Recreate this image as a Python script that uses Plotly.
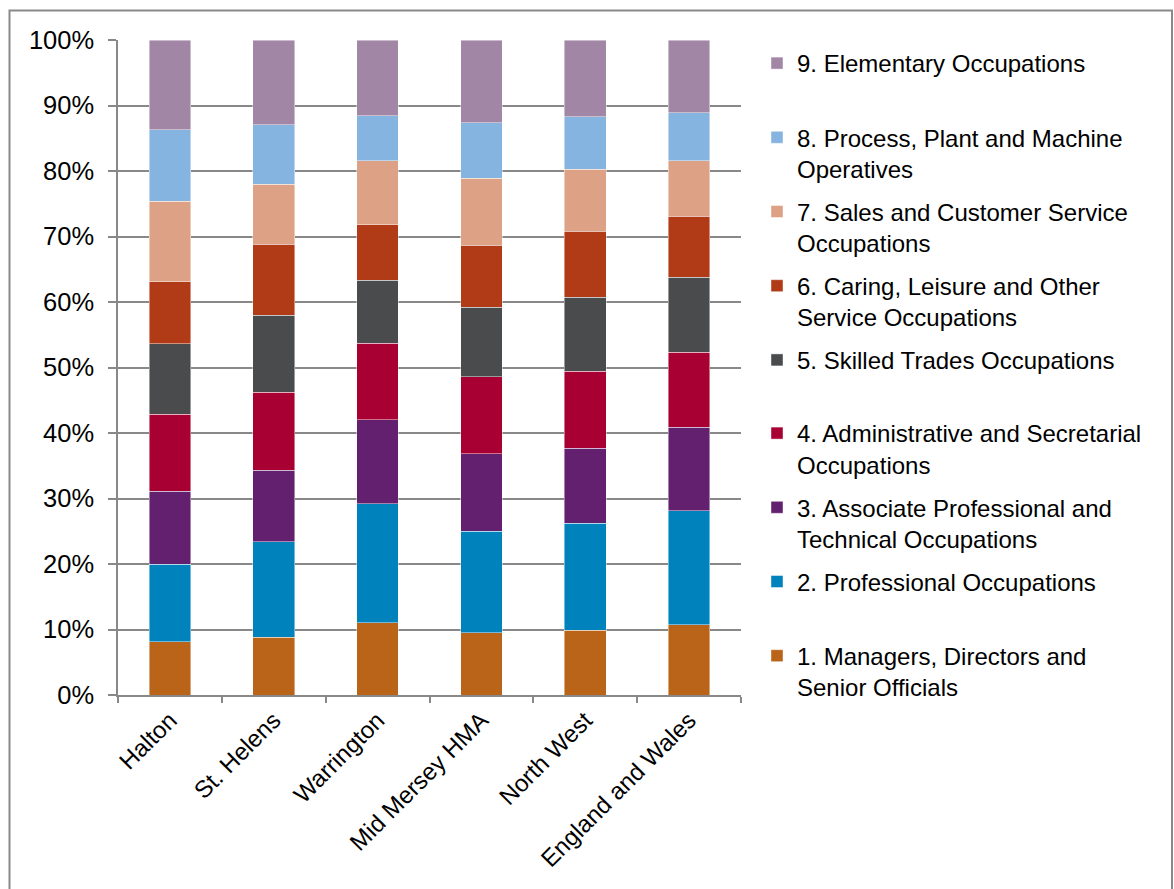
import plotly.graph_objects as go

# Areas compared
areas = ["Halton", "St. Helens", "Warrington", "Mid Mersey HMA", "North West", "England and Wales"]

# Occupation group labels (SOC major groups)
groups = [
    "1. Managers, Directors and<br>Senior Officials",
    "2. Professional Occupations",
    "3. Associate Professional and<br>Technical Occupations",
    "4. Administrative and Secretarial<br>Occupations",
    "5. Skilled Trades Occupations",
    "6. Caring, Leisure and Other<br>Service Occupations",
    "7. Sales and Customer Service<br>Occupations",
    "8. Process, Plant and Machine<br>Operatives",
    "9. Elementary Occupations",
]

# Share of employed residents by occupation group (%), per area
managers = [8.1, 8.8, 11.0, 9.5, 9.9, 10.7]
professional = [11.9, 14.6, 18.2, 15.5, 16.3, 17.4]
associate = [11.1, 10.9, 12.8, 11.8, 11.5, 12.8]
administrative = [11.8, 11.9, 11.7, 11.8, 11.7, 11.4]
skilled_trades = [10.7, 11.8, 9.6, 10.6, 11.3, 11.5]
caring_leisure = [9.5, 10.8, 8.5, 9.5, 10.1, 9.3]
sales_customer = [12.3, 9.2, 9.8, 10.2, 9.5, 8.5]
process_plant = [10.9, 9.1, 6.8, 8.5, 8.0, 7.3]
elementary = [13.7, 12.9, 11.6, 12.6, 11.7, 11.1]

series = [managers, professional, associate, administrative, skilled_trades,
          caring_leisure, sales_customer, process_plant, elementary]

colors = ["#B96418", "#0082BD", "#63206F", "#A90033", "#4A4B4D",
          "#B13A17", "#DDA285", "#84B4DF", "#A186A6"]

W, H = 1174, 889
L, R, T, B = 118, 741, 40, 695.5   # plot area in pixels
FONT = "Liberation Sans, Arial, sans-serif"
GRID = "#888888"

fig = go.Figure()
for i, (name, vals, col) in enumerate(zip(groups, series, colors)):
    # pad single-line labels so every legend entry has the same height
    label = name if "<br>" in name else name + "<br> "
    fig.add_trace(go.Bar(
        x=areas, y=vals, name=label,
        marker=dict(color=col, line=dict(color="rgba(255,255,255,0.55)", width=0.8)),
        legendgroup=f"g{i}", legendrank=len(groups) - i,
        legend="legend" if i >= 4 else "legend2",
        hovertemplate="%{x}: %{y:.1f}%<extra></extra>",
    ))

legend_common = dict(
    xref="container", yref="container", xanchor="left", yanchor="top",
    traceorder="grouped", tracegroupgap=8.8, valign="top",
    font=dict(family=FONT, size=24, color="black"),
    bgcolor="rgba(0,0,0,0)",
)

fig.update_layout(
    width=W, height=H,
    margin=dict(l=L, r=W - R, t=T, b=H - B, pad=0, autoexpand=False),
    barmode="stack", barnorm="percent", bargap=0.6,
    paper_bgcolor="white", plot_bgcolor="white",
    font=dict(family=FONT, size=24, color="black"),
    showlegend=True,
    legend=dict(x=757 / W, y=1 - 41 / H, **legend_common),
    legend2=dict(x=757 / W, y=1 - 411 / H, **legend_common),
    xaxis=dict(
        tickangle=-45, tickson="boundaries", ticks="outside", ticklen=6,
        tickcolor=GRID, tickwidth=1.5, showline=True, linecolor=GRID, linewidth=1.5,
        showgrid=False, tickfont=dict(family=FONT, size=24, color="black"),
    ),
    yaxis=dict(
        range=[0, 100], dtick=10, ticksuffix="%", ticks="outside", ticklen=8,
        ticklabelstandoff=9,
        tickcolor=GRID, tickwidth=1.5, showline=True, linecolor=GRID, linewidth=1.5,
        showgrid=True, gridcolor=GRID, gridwidth=1.5, zeroline=False,
        tickfont=dict(family=FONT, size=25.5, color="black"),
    ),
    shapes=[dict(
        type="rect", xref="paper", yref="paper",
        x0=(9.5 - L) / (R - L), x1=(1172 - L) / (R - L),
        y0=(B - 920) / (B - T), y1=(B - 10.5) / (B - T),
        line=dict(color="#898989", width=2), fillcolor="rgba(0,0,0,0)",
        layer="above",
    )],
)

fig.write_html("out.html")
